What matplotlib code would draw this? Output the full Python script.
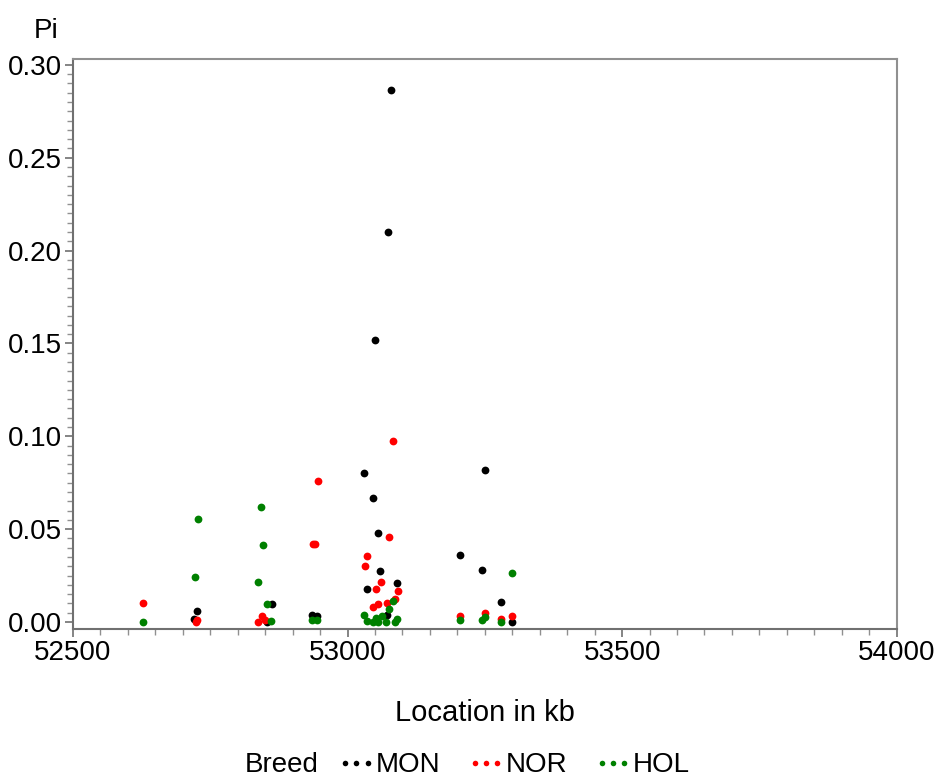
import matplotlib
matplotlib.use("Agg")
import matplotlib.pyplot as plt
from matplotlib.lines import Line2D
from matplotlib.ticker import MultipleLocator, FormatStrFormatter

plt.rcParams['font.family'] = ['Liberation Sans', 'DejaVu Sans']

# Location in kb / Pi per breed
mon_kb = [53079, 53073, 53050, 53030, 53046, 53055, 53059, 53035, 53090, 53071,
          52936, 52944, 53251, 53205, 53245, 53280, 53300, 52726, 52721, 52862, 52853]
mon_pi = [0.2865, 0.210, 0.152, 0.080, 0.067, 0.048, 0.0275, 0.018, 0.021, 0.0038,
          0.0038, 0.003, 0.082, 0.036, 0.028, 0.011, 0.000, 0.006, 0.0016, 0.0095, 0.000]

nor_kb = [52627, 52725, 52724, 52837, 52845, 52850, 52937, 52941, 52947, 53082,
          53075, 53036, 53031, 53061, 53051, 53091, 53087, 53056, 53047, 53071,
          53205, 53251, 53280, 53300]
nor_pi = [0.0104, 0.001, 0.0002, 0.0002, 0.003, 0.001, 0.042, 0.042, 0.076, 0.0976,
          0.0458, 0.0355, 0.030, 0.0217, 0.0176, 0.0167, 0.0124, 0.0097, 0.0082, 0.010,
          0.003, 0.0047, 0.0015, 0.003]

hol_kb = [52627, 52727, 52722, 52842, 52846, 52837, 52853, 52860, 52935, 52944,
          53030, 53035, 53046, 53052, 53056, 53062, 53070, 53075, 53082, 53086, 53090,
          53205, 53245, 53251, 53280, 53300]
hol_pi = [0.000, 0.0556, 0.024, 0.0618, 0.0415, 0.0215, 0.0095, 0.0005, 0.001, 0.001,
          0.0038, 0.0005, 0.000, 0.002, 0.0002, 0.003, 0.000, 0.007, 0.0115, 0.0002, 0.0015,
          0.001, 0.001, 0.0025, 0.0002, 0.0265]

breeds = ['MON', 'NOR', 'HOL']
colors = ['black', '#ff0000', '#008000']

fig = plt.figure(figsize=(9.36, 7.81), dpi=100)
ax = fig.add_axes([0.078, 0.1946, 0.880, 0.7299])

for kb, pi, c in zip([mon_kb, nor_kb, hol_kb], [mon_pi, nor_pi, hol_pi], colors):
    ax.plot(kb, pi, linestyle='none', marker='o', markersize=5.6, color=c,
            markeredgewidth=0)

ax.set_xlim(52500, 54000)
ax.set_ylim(-0.0038, 0.3032)
ax.xaxis.set_major_locator(MultipleLocator(500))
ax.xaxis.set_minor_locator(MultipleLocator(50))
ax.yaxis.set_major_locator(MultipleLocator(0.05))
ax.yaxis.set_minor_locator(MultipleLocator(0.005))
ax.yaxis.set_major_formatter(FormatStrFormatter('%.2f'))

for side in ['left', 'bottom']:
    ax.spines[side].set_color('#707070')
    ax.spines[side].set_linewidth(1.5)
for side in ['top', 'right']:
    ax.spines[side].set_color('#909090')
    ax.spines[side].set_linewidth(1.5)

ax.tick_params(which='major', length=6, width=1.2, color='#707070', labelsize=20, pad=2)
ax.tick_params(which='minor', length=4, width=1, color='#909090')

fig.text(0.049, 0.960, 'Pi', fontsize=20, ha='center', va='center')
fig.text(0.518, 0.087, 'Location in kb', fontsize=21, ha='center', va='center')

fig.text(0.262, 0.020, 'Breed', fontsize=20, ha='left', va='center')
handles = [Line2D([], [], linestyle='none', marker='o', markersize=4,
                  color=c, markeredgewidth=0) for c in colors]
fig.legend(handles, breeds, loc='center left', bbox_to_anchor=(0.360, 0.020),
           ncol=3, frameon=False, numpoints=3, fontsize=20, handlelength=1.4,
           handletextpad=0.0, columnspacing=0.95, borderaxespad=0, borderpad=0)

fig.savefig('out.png', dpi=100)
